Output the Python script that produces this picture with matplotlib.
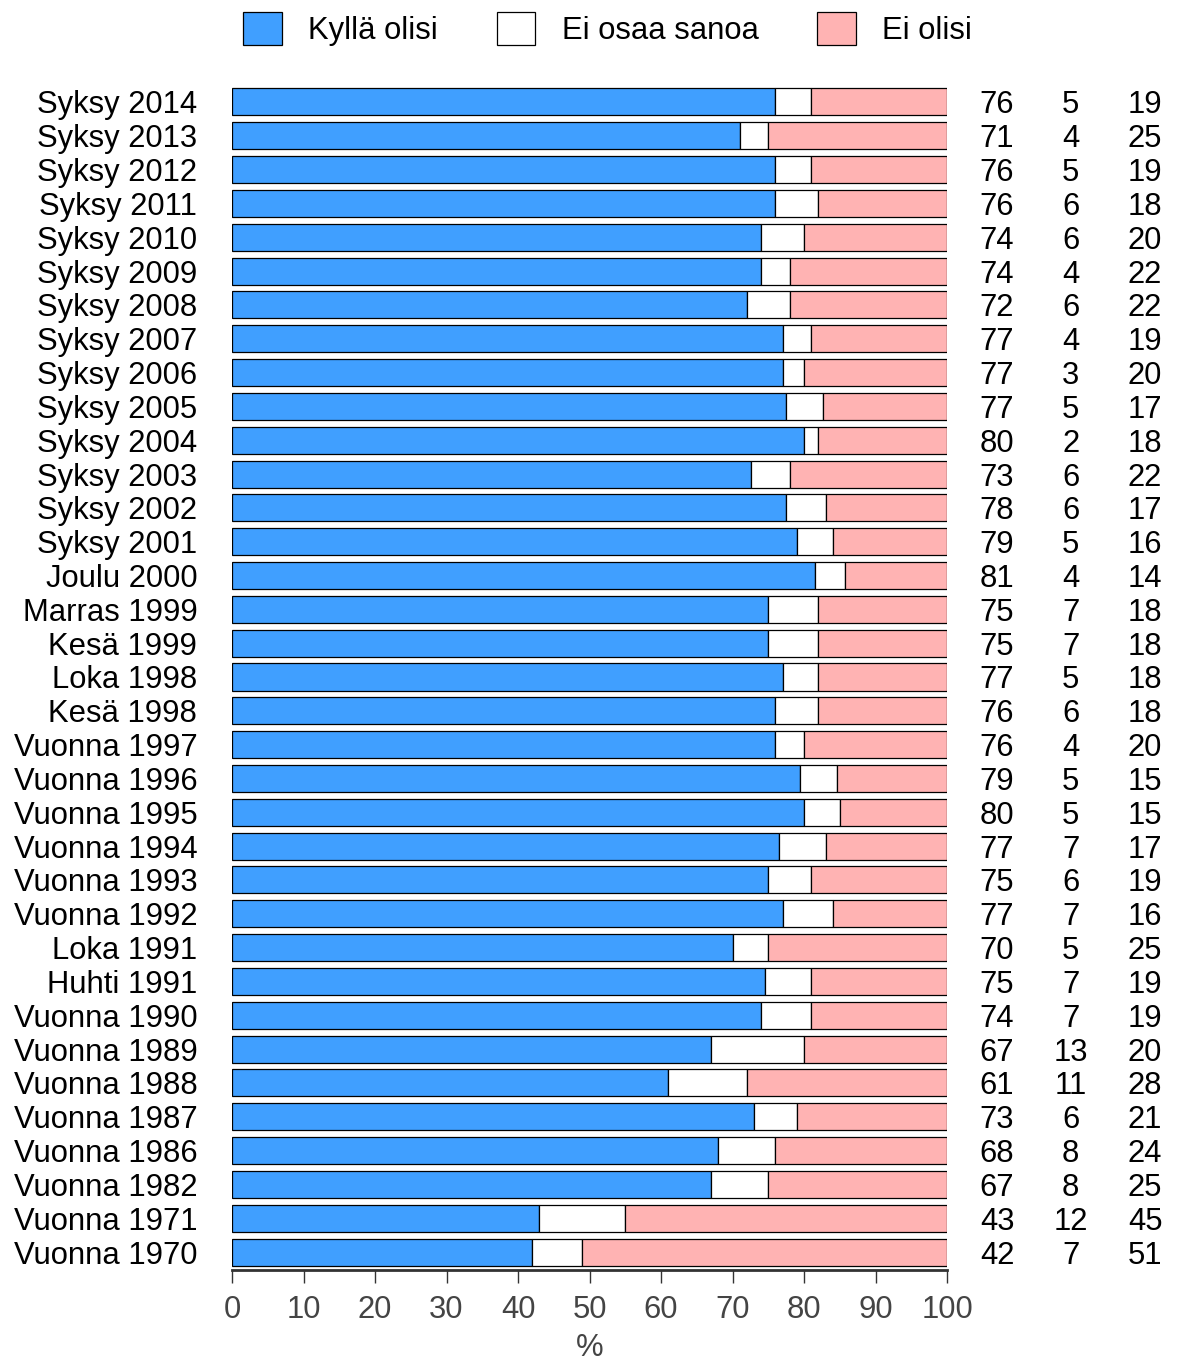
import numpy as np
from matplotlib import pyplot as plt
from matplotlib.patches import Patch

plt.rcParams['font.family'] = ['Liberation Sans', 'DejaVu Sans']

# rows, top to bottom
labels = ['Syksy 2014', 'Syksy 2013', 'Syksy 2012', 'Syksy 2011', 'Syksy 2010',
          'Syksy 2009', 'Syksy 2008', 'Syksy 2007', 'Syksy 2006', 'Syksy 2005',
          'Syksy 2004', 'Syksy 2003', 'Syksy 2002', 'Syksy 2001', 'Joulu 2000',
          'Marras 1999', 'Kesä 1999', 'Loka 1998', 'Kesä 1998', 'Vuonna 1997',
          'Vuonna 1996', 'Vuonna 1995', 'Vuonna 1994', 'Vuonna 1993', 'Vuonna 1992',
          'Loka 1991', 'Huhti 1991', 'Vuonna 1990', 'Vuonna 1989', 'Vuonna 1988',
          'Vuonna 1987', 'Vuonna 1986', 'Vuonna 1982', 'Vuonna 1971', 'Vuonna 1970']

# bar lengths (unrounded)
kylla = [76, 71, 76, 76, 74, 74, 72, 77, 77, 77.5, 80, 72.6, 77.5, 79, 81.5,
         75, 75, 77, 76, 76, 79.4, 80, 76.5, 75, 77, 70, 74.5, 74, 67, 61,
         73, 68, 67, 43, 42]
eos = [5, 4, 5, 6, 6, 4, 6, 4, 3, 5.2, 2, 5.4, 5.6, 5, 4.2,
       7, 7, 5, 6, 4, 5.2, 5, 6.6, 6, 7, 5, 6.5, 7, 13, 11,
       6, 8, 8, 12, 7]

# printed numbers on the right
kylla_txt = [76, 71, 76, 76, 74, 74, 72, 77, 77, 77, 80, 73, 78, 79, 81,
             75, 75, 77, 76, 76, 79, 80, 77, 75, 77, 70, 75, 74, 67, 61,
             73, 68, 67, 43, 42]
eos_txt = [5, 4, 5, 6, 6, 4, 6, 4, 3, 5, 2, 6, 6, 5, 4,
           7, 7, 5, 6, 4, 5, 5, 7, 6, 7, 5, 7, 7, 13, 11,
           6, 8, 8, 12, 7]
ei_txt = [19, 25, 19, 18, 20, 22, 22, 19, 20, 17, 18, 22, 17, 16, 14,
          18, 18, 18, 18, 20, 15, 15, 17, 19, 16, 25, 19, 19, 20, 28,
          21, 24, 25, 45, 51]

blue = '#409FFF'
pink = '#FFB3B3'
fs = 22.3

kylla = np.array(kylla)
eos = np.array(eos)
ei = 100 - kylla - eos
y = np.arange(len(labels))

fig = plt.figure(figsize=(11.8, 13.63), dpi=100)
ax = fig.add_axes([232/1180, 93/1363, 715/1180, 1186/1363])

kw = dict(height=0.8, edgecolor='black', linewidth=0.9)
ax.barh(y, kylla, color=blue, **kw)
ax.barh(y, eos, left=kylla, color='white', **kw)
ax.barh(y, ei, left=kylla + eos, color=pink, **kw)

ax.set_xlim(0, 100)
ax.set_ylim(len(labels) - 1 + 0.53, -0.53)
ax.set_yticks(y)
ax.set_yticklabels(labels, fontsize=fs)
ax.tick_params(axis='y', length=0, pad=25)
ax.set_xticks(np.arange(0, 101, 10))
ax.tick_params(axis='x', length=9, width=1, color='#333333', labelsize=fs,
               labelcolor='#444444', pad=9)
ax.set_xlabel('%', fontsize=fs, color='#444444', labelpad=6)

for s in ['top', 'right', 'left']:
    ax.spines[s].set_visible(False)
ax.spines['bottom'].set_linewidth(2)
ax.spines['bottom'].set_color('#333333')

tr = ax.get_yaxis_transform()
for i in range(len(labels)):
    ax.text(1.070, y[i], str(kylla_txt[i]), transform=tr, ha='center', va='center_baseline', fontsize=fs)
    ax.text(1.173, y[i], str(eos_txt[i]), transform=tr, ha='center', va='center_baseline', fontsize=fs)
    ax.text(1.277, y[i], str(ei_txt[i]), transform=tr, ha='center', va='center_baseline', fontsize=fs)

handles = [Patch(facecolor=blue, edgecolor='black', linewidth=0.9, label='Kyllä olisi'),
           Patch(facecolor='white', edgecolor='black', linewidth=0.9, label='Ei osaa sanoa'),
           Patch(facecolor=pink, edgecolor='black', linewidth=0.9, label='Ei olisi')]
fig.legend(handles=handles, loc='center', bbox_to_anchor=(0.515, 1 - 29/1363), ncol=3,
           frameon=False, fontsize=fs, handlelength=1.25, handleheight=1.25,
           handletextpad=0.85, columnspacing=1.9)

fig.savefig('out.png', dpi=100)
